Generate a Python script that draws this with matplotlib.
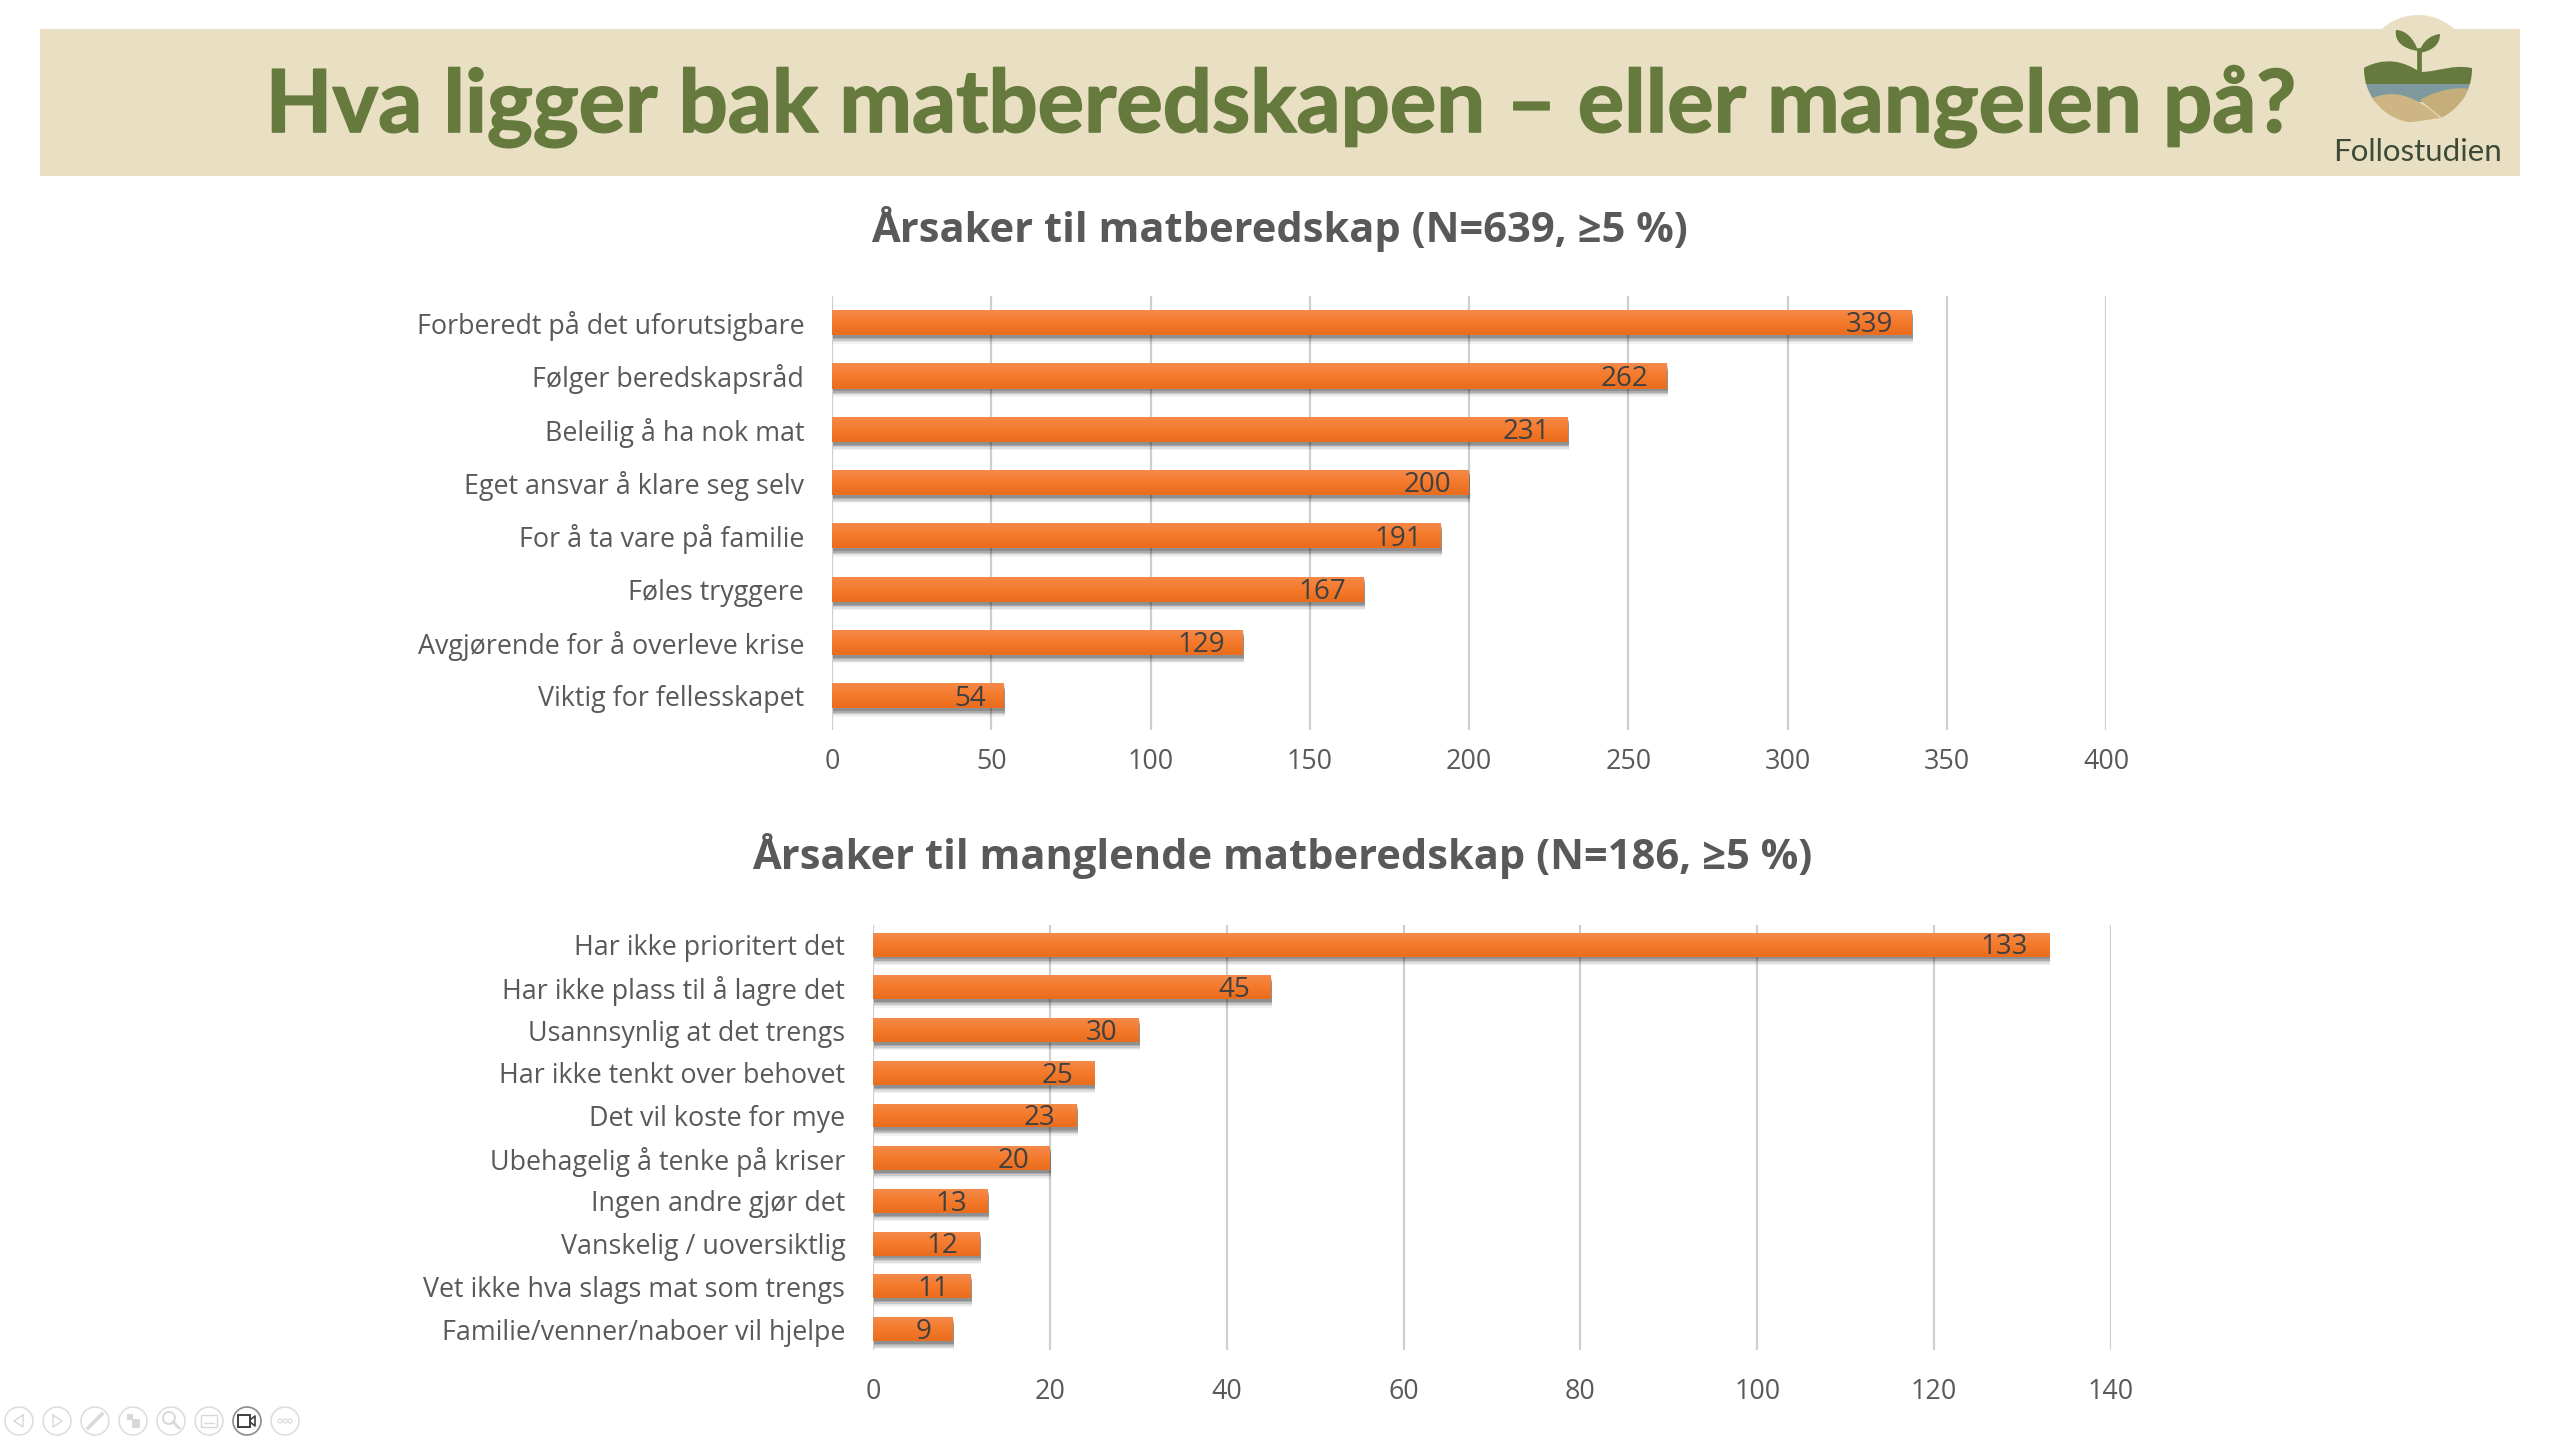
import numpy as np
import matplotlib
matplotlib.use("Agg")
import matplotlib.pyplot as plt
import matplotlib.patheffects as pe
from matplotlib.patches import Circle, PathPatch, Rectangle
from matplotlib.path import Path
from matplotlib.colors import LinearSegmentedColormap

plt.rcParams['font.family'] = ['Open Sans', 'DejaVu Sans']

W, H = 2560, 1440

title = "Hva ligger bak matberedskapen – eller mangelen på?"
logo_text = "Follostudien"

top_title = "Årsaker til matberedskap (N=639, ≥5 %)"
top_labels = ["Forberedt på det uforutsigbare", "Følger beredskapsråd", "Beleilig å ha nok mat",
              "Eget ansvar å klare seg selv", "For å ta vare på familie", "Føles tryggere",
              "Avgjørende for å overleve krise", "Viktig for fellesskapet"]
top_values = [339, 262, 231, 200, 191, 167, 129, 54]
top_ticks = [0, 50, 100, 150, 200, 250, 300, 350, 400]

bottom_title = "Årsaker til manglende matberedskap (N=186, ≥5 %)"
bottom_labels = ["Har ikke prioritert det", "Har ikke plass til å lagre det", "Usannsynlig at det trengs",
                 "Har ikke tenkt over behovet", "Det vil koste for mye", "Ubehagelig å tenke på kriser",
                 "Ingen andre gjør det", "Vanskelig / uoversiktlig", "Vet ikke hva slags mat som trengs",
                 "Familie/venner/naboer vil hjelpe"]
bottom_values = [133, 45, 30, 25, 23, 20, 13, 12, 11, 9]
bottom_ticks = [0, 20, 40, 60, 80, 100, 120, 140]

OLIVE = "#667A3E"
SAND = "#E9E0C4"
GREY = "#595959"
orange = LinearSegmentedColormap.from_list("bar", ["#F58A4A", "#F47A2C", "#EA6C1C"])


def pixel_axes(fig, left, top, right, bottom):
    return fig.add_axes([left / W, 1 - bottom / H, (right - left) / W, (bottom - top) / H])


def draw_chart(ax, labels, values, ticks, bar_height, label_offset, ylim, xpad):
    ypos = np.arange(len(values))
    shadow = [pe.SimplePatchShadow(offset=(1, -d), shadow_rgbFace="#000000", alpha=a)
              for d, a in [(6, 0.05), (5, 0.07), (4, 0.1), (3, 0.14), (2, 0.16)]]
    bars = ax.barh(ypos, values, height=bar_height, color="#F47A2C", zorder=3,
                   path_effects=shadow + [pe.Normal()])
    gradient = np.linspace(0, 1, 64).reshape(-1, 1)
    for bar in bars:
        im = ax.imshow(gradient, cmap=orange, aspect="auto", zorder=3.5,
                       extent=(bar.get_x(), bar.get_x() + bar.get_width(),
                               bar.get_y() + bar.get_height(), bar.get_y()))
        im.set_clip_path(bar)
    ax.set_xlim(ticks[0], ticks[-1])
    ax.set_ylim(*ylim)
    ax.set_yticks(ypos, labels)
    ax.set_xticks(ticks)
    ax.tick_params(axis="both", length=0, colors=GREY, labelsize=19.4)
    ax.tick_params(axis="y", pad=20)
    ax.tick_params(axis="x", pad=xpad)
    ax.grid(axis="x", color="#CFCFCF", linewidth=1.6, zorder=1)
    ax.set_axisbelow(True)
    for spine in ax.spines.values():
        spine.set_visible(False)
    for bar, value in zip(bars, values):
        ax.annotate(str(value), (value, bar.get_y() + bar.get_height() / 2),
                    xytext=(label_offset, -2), textcoords="offset points",
                    ha="right", va="center", fontsize=20, color="#404040", zorder=5)


fig = plt.figure(figsize=(W / 100, H / 100), dpi=100, facecolor="white")

# overlay in pixel coordinates for the banner, logo and toolbar
bg = fig.add_axes([0, 0, 1, 1])
bg.set_xlim(0, W)
bg.set_ylim(H, 0)
bg.axis("off")

bg.add_patch(Rectangle((40, 29), 2480, 147, color=SAND, lw=0))
bg.text(1280, 107, title, fontsize=62.5, fontweight="bold", color=OLIVE, ha="center", va="center",
        family=["Lato", "DejaVu Sans"],
        path_effects=[pe.withStroke(linewidth=1.2, foreground=OLIVE)])

# logo
disc = Circle((2418, 69), 54, color=SAND, lw=0, zorder=2)
bg.add_patch(disc)
clip = Circle((2418, 69), 54, transform=bg.transData)
hills = Path([(2360, 70), (2385, 55), (2405, 62), (2420, 72), (2440, 72), (2455, 62), (2480, 70),
              (2480, 84), (2360, 84), (2360, 70)],
             [1, 4, 4, 4, 4, 4, 4, 2, 2, 79])
water = Rectangle((2360, 82), 120, 20, color="#7F9A9F", lw=0, zorder=3)
sand1 = Path([(2360, 105), (2385, 88), (2410, 90), (2440, 118), (2360, 130), (2360, 105)],
             [1, 4, 4, 4, 2, 79])
sand2 = Path([(2420, 100), (2440, 88), (2465, 85), (2480, 92), (2480, 130), (2442, 118), (2420, 100)],
             [1, 4, 4, 4, 2, 2, 79])
for item in [water,
             PathPatch(hills, color=OLIVE, lw=0, zorder=4),
             PathPatch(sand2, color="#C6AE7A", lw=0, zorder=5),
             PathPatch(sand1, color="#CDB683", lw=0, zorder=6)]:
    bg.add_patch(item)
    item.set_clip_path(clip)
bg.plot([2418.5, 2418.5], [50, 72], color=OLIVE, lw=3.4, zorder=7)
left_leaf = Path([(2418, 51), (2414, 38), (2405, 30), (2396, 30), (2394, 42), (2404, 49), (2418, 51)],
                 [1, 4, 4, 4, 4, 4, 4])
right_leaf = Path([(2419, 53), (2422, 42), (2430, 35), (2440, 34), (2440, 45), (2432, 51), (2419, 53)],
                  [1, 4, 4, 4, 4, 4, 4])
bg.add_patch(PathPatch(left_leaf, color=OLIVE, lw=0, zorder=7))
bg.add_patch(PathPatch(right_leaf, color=OLIVE, lw=0, zorder=7))
bg.text(2418, 152, logo_text, fontsize=22.5, color="#3E4A38", ha="center", va="center",
        family=["Lato", "DejaVu Sans"])

# slide-show toolbar
for i, cx in enumerate(range(19, 19 + 38 * 8, 38)):
    active = i == 6
    edge = "#8C8C8C" if active else "#DEDEDE"
    bg.add_patch(Circle((cx, 1421), 14, fill=False, ec=edge, lw=1.2))
    mark = "#404040" if active else "#D8D8D8"
    if i == 0:
        bg.plot([cx + 4, cx - 5, cx + 4, cx + 4], [1415, 1421, 1427, 1415], color=mark, lw=1)
    elif i == 1:
        bg.plot([cx - 4, cx + 5, cx - 4, cx - 4], [1415, 1421, 1427, 1415], color=mark, lw=1)
    elif i == 2:
        bg.plot([cx - 7, cx + 7], [1428, 1414], color=mark, lw=2.5)
    elif i == 3:
        bg.add_patch(Rectangle((cx - 6, 1414), 6, 6, color=mark, lw=0))
        bg.add_patch(Rectangle((cx - 1, 1419), 8, 9, color=mark, lw=0))
    elif i == 4:
        bg.add_patch(Circle((cx - 2, 1418), 6, fill=False, ec=mark, lw=1.4))
        bg.plot([cx + 2, cx + 8], [1422, 1428], color=mark, lw=2)
    elif i == 5:
        bg.add_patch(Rectangle((cx - 8, 1415), 16, 12, fill=False, ec=mark, lw=1))
        bg.plot([cx - 5, cx + 5], [1423, 1423], color=mark, lw=1)
    elif i == 6:
        bg.add_patch(Rectangle((cx - 9, 1415), 12, 12, fill=False, ec=mark, lw=1.4))
        bg.plot([cx + 3, cx + 8, cx + 8, cx + 3], [1420, 1416, 1426, 1422], color=mark, lw=1.2)
    else:
        for dx in (-5, 0, 5):
            bg.add_patch(Circle((cx + dx, 1421), 2, fill=False, ec=mark, lw=0.8))

bg.text(1279, 229, top_title, fontsize=30, fontweight="bold", color=GREY, ha="center", va="center")
bg.text(1282, 856, bottom_title, fontsize=30, fontweight="bold", color=GREY, ha="center", va="center")

ax_top = pixel_axes(fig, 832, 296, 2106, 730)
ax_top.patch.set_alpha(0)
draw_chart(ax_top, top_labels, top_values, top_ticks, 0.47, -13, (7.64, -0.5), 13)

ax_bottom = pixel_axes(fig, 873, 925, 2111, 1350)
ax_bottom.patch.set_alpha(0)
draw_chart(ax_bottom, bottom_labels, bottom_values, bottom_ticks, 0.56, -15, (9.49, -0.46), 20)

fig.savefig("out.png", dpi=100, facecolor="white")
